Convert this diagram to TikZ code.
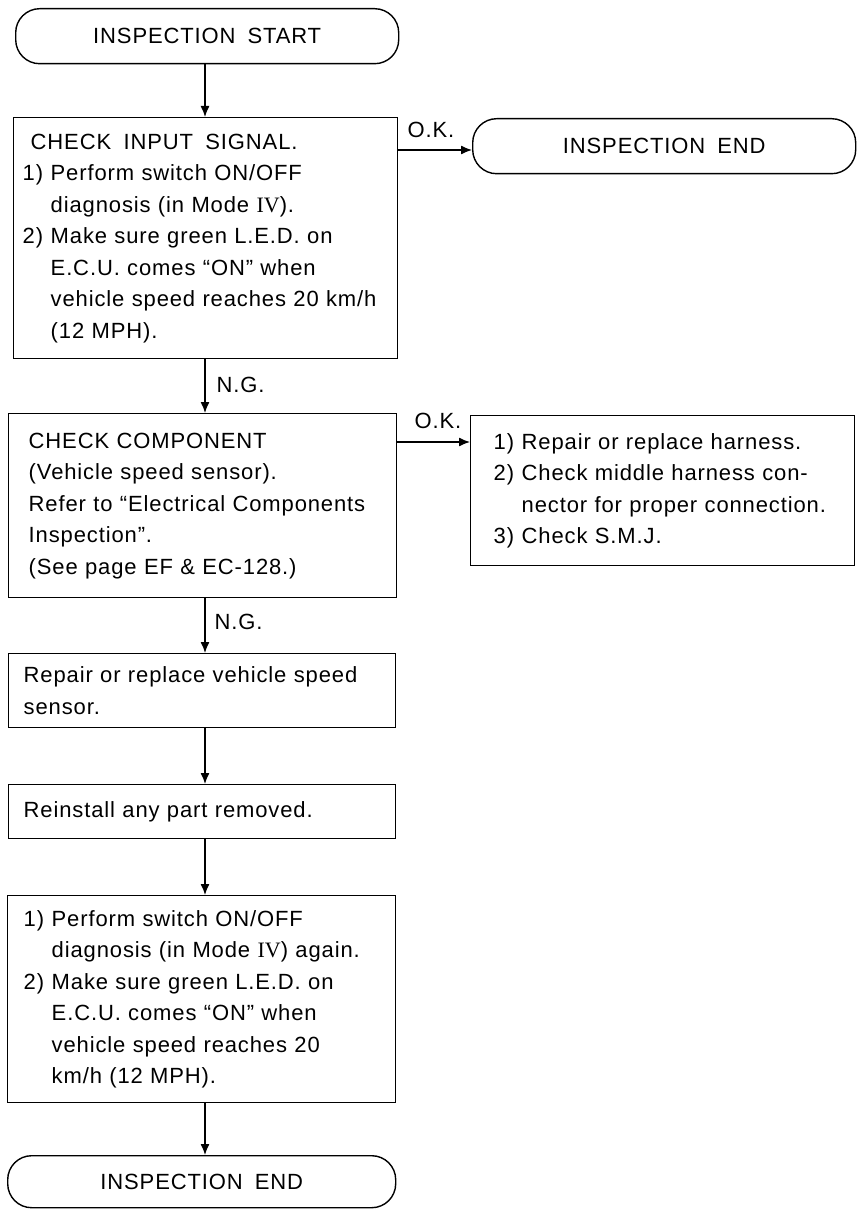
\documentclass[tikz,border=0pt]{standalone}
\usepackage{fontspec}
\setmainfont{Liberation Sans}[LetterSpace=4]
\newfontfamily\rnfont{Liberation Serif}
\usetikzlibrary{arrows.meta}
\newcommand\nbx[1]{\makebox[28pt][l]{#1}}
\newcommand\indt{\hspace*{28pt}}
\newcommand\wsp{\hspace{5pt}}
\begin{document}
\begin{tikzpicture}[x=1pt,y=-1pt,line width=1.4pt,
  txt/.style={font=\fontsize{22}{31.5}\selectfont},
  box/.style={draw,rectangle,anchor=north west,inner ysep=0pt,align=left,txt},
  term/.style={draw,rectangle,rounded corners=24pt,anchor=north west,inner sep=0pt,txt},
  arr/.style={-{Latex[length=11pt,width=9pt]},line width=1.3pt},
  lbl/.style={txt,inner sep=0pt,anchor=west}]
\path[use as bounding box] (0,0) rectangle (859,1209);
\coordinate (col) at (205,0);
\coordinate (ok1) at (0,150);
\coordinate (ok2) at (0,442);

\node[term,minimum width=383pt,minimum height=55pt] (st) at (15,8) {INSPECTION\wsp{} START};
\node[term,minimum width=383pt,minimum height=55pt] (e1) at (472,118) {INSPECTION\wsp{} END};

\node[box,inner xsep=9pt,text width=366pt,minimum height=241pt] (b1) at (13,117) {%
\hspace*{8pt}CHECK\wsp{} INPUT\wsp{} SIGNAL.\\
\nbx{1)}Perform switch ON/OFF\\
\indt diagnosis (in Mode {\rnfont IV}).\\
\nbx{2)}Make sure green L.E.D. on\\
\indt E.C.U. comes “ON” when\\
\indt vehicle speed reaches 20 km/h\\
\indt (12 MPH).};

\node[box,inner xsep=20pt,text width=348pt,minimum height=184pt] (b2) at (8,413) {%
CHECK COMPONENT\\
(Vehicle speed sensor).\\
Refer to “Electrical Components\\
Inspection”.\\
(See page EF \& EC-128.)};

\node[box,inner xsep=23pt,text width=338pt,minimum height=150pt] (b3) at (470,415) {%
\nbx{1)}Repair or replace harness.\\
\nbx{2)}Check middle harness con-\\
\indt nector for proper connection.\\
\nbx{3)}Check S.M.J.};

\node[box,inner xsep=15pt,text width=357pt,minimum height=74pt] (b4) at (8,653) {%
Repair or replace vehicle speed\\
sensor.};

\node[box,inner xsep=15pt,text width=357pt,minimum height=54pt] (b5) at (8,784) {%
Reinstall any part removed.};

\node[box,inner xsep=16pt,text width=356pt,minimum height=207pt] (b6) at (7,895) {%
\nbx{1)}Perform switch ON/OFF\\
\indt diagnosis (in Mode {\rnfont IV}) again.\\
\nbx{2)}Make sure green L.E.D. on\\
\indt E.C.U. comes “ON” when\\
\indt vehicle speed reaches 20\\
\indt km/h (12 MPH).};

\node[term,minimum width=388pt,minimum height=52pt] (e2) at (7,1155) {INSPECTION\wsp{} END};

\draw[arr] (st.south -| col) -- (b1.north -| col);
\draw[arr] (b1.south -| col) -- (b2.north -| col);
\draw[arr] (b2.south -| col) -- (b4.north -| col);
\draw[arr] (b4.south -| col) -- (b5.north -| col);
\draw[arr] (b5.south -| col) -- (b6.north -| col);
\draw[arr] (b6.south -| col) -- (e2.north -| col);
\draw[arr] (b1.east |- ok1) -- (e1.west |- ok1);
\draw[arr] (b2.east |- ok2) -- (b3.west |- ok2);

\node[lbl] (ok1l) at (407,130) {O.K.};
\node[lbl] (ok2l) at (414,421) {O.K.};
\node[lbl] (ng1l) at (216,385) {N.G.};
\node[lbl] (ng2l) at (214,622) {N.G.};
\end{tikzpicture}
\end{document}
